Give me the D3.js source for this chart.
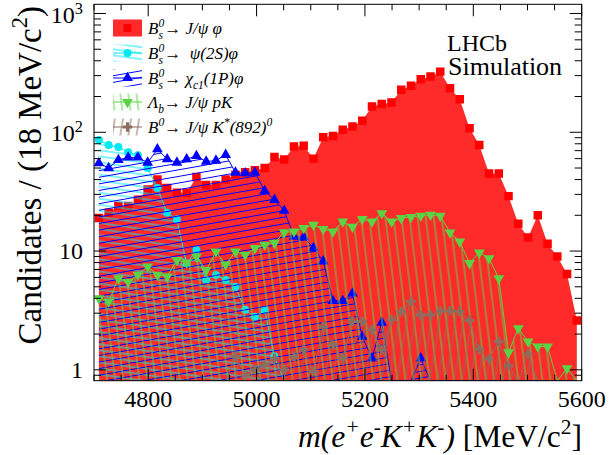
<!DOCTYPE html>
<html><head><meta charset="utf-8">
<script src="https://cdn.jsdelivr.net/npm/d3@7"></script>
<style>
body{margin:0;background:#fff;}
text{font-family:"Liberation Serif","Times New Roman",serif;fill:#000;}
</style></head>
<body><svg id="c" width="610" height="455"></svg>
<script>
// ---- data ----
const xEdges = [4700, 5600];
const binWidth = 18;
const xTickLabels = [4800, 5000, 5200, 5400, 5600];
const yTickValues = [1, 10, 100, 1000];
const redJpsiPhi = [19,21,24,24,27,33,40,34,31,31,42,36,36,40,44,46,48,50,62,59,76,77,60,91,93,105,112,125,165,173,178,228,246,280,295,324,235,190,108,78,45,45,29,17,13,20,11.5,9,6.4,2.6];
const cyanPsi2SPhi = [86,78,75,68,64,50,34,21,18.5,7.8,10.2,5.7,6.3,5.7,5.0,3.2,2.8,3.2,1.3,0,0,0,0,0,0,0,0,0,0,0,0,0,0,0,0,0,0,0,0,0,0,0,0,0,0,0,0,0,0,0];
const blueChic1Phi = [55,50,58.6,61.3,61.3,55.6,72,59.4,55.6,59.4,63.3,56.7,57.8,64.6,45.8,45.3,45.8,32.1,27,21.9,13.2,13.1,10.6,8.2,3.8,3.8,4.4,1.9,1.25,2.5,0,0,0,1.25,0,0,0,0,0,0,0,0,0,0,0,0,0,0,0,0];
const greenLbJpsipK = [4.0,3.76,5.9,5.5,6.3,7.4,6.3,6.1,8.4,8,9.0,6.9,9.9,7.7,9.9,9.3,10.6,11.3,11.7,14.4,14.6,15.6,16.6,15.3,14.6,17.7,16,18.6,17.7,20.8,17.7,18.9,19.3,19.8,20.2,19.8,14.3,12,7.9,9.7,8.7,5.9,1.4,2.24,1.73,1.57,1.57,0,1.03,0];
const brownB0JpsiKst = [0,0,0,0,0,0,0,0,0,0,0,0,0,0,1.3,0.9,1.0,1.1,1.25,1.0,1.3,1.47,0.97,2.3,1.62,1.25,2.55,2.55,2.17,1.47,2.64,3.1,3.76,2.9,2.9,3.14,3.14,3.1,2.6,1.49,1.23,1.73,1.08,0,1.36,0,0,0,0,0];

const svg = d3.select('#c');
const L = 94, R = 581.7, T = 4.3, B = 380.7;
const x = d3.scaleLinear().domain(xEdges).range([L, R]);
const y = d3.scaleLog().domain([0.81, 1195]).range([B, T]);
const centers = redJpsiPhi.map((d, i) => xEdges[0] + binWidth * (i + 0.5));

const defs = svg.append('defs');
defs.append('clipPath').attr('id', 'clip').append('rect').attr('x', L).attr('y', T).attr('width', R - L).attr('height', B - T);
function hatch(id, color, spacing, angle, vertical) {
  const p = defs.append('pattern').attr('id', id).attr('width', spacing).attr('height', spacing)
    .attr('patternUnits', 'userSpaceOnUse').attr('patternTransform', `rotate(${angle})`);
  if (vertical) p.append('line').attr('x1', spacing / 2).attr('x2', spacing / 2).attr('y1', 0).attr('y2', spacing);
  else p.append('line').attr('y1', spacing / 2).attr('y2', spacing / 2).attr('x1', 0).attr('x2', spacing);
  p.select('line').attr('stroke', color).attr('stroke-width', 1);
}
const cCyan = '#00e8f0', cBlue = '#0000ff', cGreen = '#5ad444', cBrown = '#8c6e60', cRed = '#ff0000';
const redFill = '#ff2a2a';
hatch('pCyan', cCyan, 6, 8, false);
hatch('pBlue', cBlue, 6.5, -10, false);
hatch('pGreen', cGreen, 8, -7, true);
hatch('pBrown', cBrown, 8, 9, true);

const yv = v => y(Math.max(v, 0.81));
const plot = svg.append('g').attr('clip-path', 'url(#clip)');
const area = d3.area().x((d, i) => x(centers[i])).y0(B).y1(d => yv(d));
const line = d3.line().x((d, i) => x(centers[i])).y(d => yv(d));

function series(data, fill, color, sym, size, rot, lineOn) {
  plot.append('path').datum(data).attr('d', area).attr('fill', fill).attr('stroke', 'none');
  if (lineOn) plot.append('path').datum(data).attr('d', line).attr('fill', 'none').attr('stroke', color).attr('stroke-width', 1);
  plot.append('g').selectAll('path').data(data.map((d, i) => [d, i]).filter(d => d[0] > 0)).join('path')
    .attr('d', d3.symbol(sym, size)())
    .attr('transform', d => `translate(${x(centers[d[1]])},${y(d[0])}) rotate(${rot})`)
    .attr('fill', color);
}
series(redJpsiPhi, redFill, cRed, d3.symbolSquare, 72, 0, false);
series(cyanPsi2SPhi, 'url(#pCyan)', cCyan, d3.symbolCircle, 50, 0, true);
series(blueChic1Phi, 'url(#pBlue)', cBlue, d3.symbolTriangle, 50, 0, true);
series(greenLbJpsipK, 'url(#pGreen)', cGreen, d3.symbolTriangle, 50, 180, true);
series(brownB0JpsiKst, 'url(#pBrown)', cBrown, d3.symbolCross, 50, 0, true);

// ---- frame & ticks ----
const ax = svg.append('g').attr('stroke', '#000').attr('stroke-width', 1);
ax.append('rect').attr('x', L).attr('y', T).attr('width', R - L).attr('height', B - T).attr('fill', 'none');
const xt = d3.range(4700, 5601, 50);
xt.forEach(v => {
  const len = (v % 200 === 0) ? 12 : 6;
  ax.append('line').attr('x1', x(v)).attr('x2', x(v)).attr('y1', B).attr('y2', B - len);
  ax.append('line').attr('x1', x(v)).attr('x2', x(v)).attr('y1', T).attr('y2', T + len);
});
const yt = [];
[0.1, 1, 10, 100, 1000].forEach(d => { for (let k = 1; k < 10; k++) { const v = d * k; if (v >= 0.81 && v <= 1195) yt.push(v); } });
yt.forEach(v => {
  const major = yTickValues.some(m => Math.abs(m - v) < 1e-9);
  const len = major ? 12 : 7;
  ax.append('line').attr('x1', L).attr('x2', L + len).attr('y1', y(v)).attr('y2', y(v));
  ax.append('line').attr('x1', R).attr('x2', R - len).attr('y1', y(v)).attr('y2', y(v));
});
// x labels
svg.append('g').selectAll('text').data(xTickLabels).join('text')
  .attr('x', d => x(d)).attr('y', 407).attr('text-anchor', 'middle').style('font-size', '24px').text(d => d);

// rich text helper
function rich(g, x0, y0, parts, size) {
  let cx = x0;
  parts.forEach(p => {
    if (p.sup !== undefined || p.sub !== undefined) {
      let w = 0;
      if (p.sup !== undefined) {
        const t = g.append('text').attr('x', cx).attr('y', y0 - size * (p.supUp || 0.42)).style('font-size', (size * 0.68) + 'px')
          .style('font-style', p.it ? 'italic' : 'normal').text(p.sup);
        w = Math.max(w, t.node().getComputedTextLength());
      }
      if (p.sub !== undefined) {
        const t = g.append('text').attr('x', cx).attr('y', y0 + size * 0.28).style('font-size', (size * 0.68) + 'px')
          .style('font-style', p.it ? 'italic' : 'normal').text(p.sub);
        w = Math.max(w, t.node().getComputedTextLength());
      }
      cx += w + (p.after || 0);
    } else {
      const t = g.append('text').attr('x', cx).attr('y', y0).style('font-size', size + 'px')
        .style('font-style', p.it ? 'italic' : 'normal').attr('xml:space', 'preserve').text(p.t);
      cx += t.node().getComputedTextLength();
    }
  });
  return cx - x0;
}

// y labels
const yl = svg.append('g');
function yLabel(v, parts, dy) {
  const g = yl.append('g');
  const w = rich(g, 0, 0, parts, 24);
  g.attr('transform', `translate(${83 - w},${y(v) + dy})`);
}
yLabel(1000, [{t: '10'}, {sup: '3', supUp: 0.4}], 10);
yLabel(100, [{t: '10'}, {sup: '2', supUp: 0.4}], 9);
yLabel(10, [{t: '10'}], 8);
yLabel(1, [{t: '1'}], 8);

// axis titles
const xtg = svg.append('g');
const xw = rich(xtg, 0, 0, [{t: 'm(e', it: 1}, {sup: '+', it: 1}, {t: 'e', it: 1}, {sup: '-', it: 1}, {t: 'K', it: 1}, {sup: '+', it: 1}, {t: 'K', it: 1}, {sup: '-', it: 1}, {t: ')', it: 1}, {t: ' [MeV/c'}, {sup: '2'}, {t: ']'}], 31.5);
xtg.attr('transform', `translate(${582 - xw},447)`);
const ytg = svg.append('g');
const yw = rich(ytg, 0, 0, [{t: 'Candidates / (18 MeV/c'}, {sup: '2'}, {t: ')'}], 33);
ytg.attr('transform', `translate(41,${6 + yw}) rotate(-90)`);

// LHCb
svg.append('text').attr('x', 447).attr('y', 51).style('font-size', '24px').text('LHCb');
svg.append('text').attr('x', 448).attr('y', 75).style('font-size', '26px').text('Simulation');

// legend
const lg = svg.append('g');
const rows = [28, 53, 78, 102, 127];
const sx0 = 113, sx1 = 142, sh = 17;
const legendItems = [
  {fill: redFill, color: cRed, sym: d3.symbolSquare, size: 64, rot: 0, line: false,
   parts: [{t: 'B', it: 1}, {sup: '0', sub: 's', it: 1}, {t: '\u2192 J/\u03C8 \u03C6', it: 1}]},
  {fill: 'url(#pCyan)', color: cCyan, sym: d3.symbolCircle, size: 50, rot: 0, line: true,
   parts: [{t: 'B', it: 1}, {sup: '0', sub: 's', it: 1}, {t: '\u2192  \u03C8(2S)\u03C6', it: 1}]},
  {fill: 'url(#pBlue)', color: cBlue, sym: d3.symbolTriangle, size: 50, rot: 0, line: true,
   parts: [{t: 'B', it: 1}, {sup: '0', sub: 's', it: 1}, {t: '\u2192 \u03C7', it: 1}, {sub: ' c1', it: 1}, {t: '(1P)\u03C6', it: 1}]},
  {fill: 'url(#pGreen)', color: cGreen, sym: d3.symbolTriangle, size: 50, rot: 180, line: true,
   parts: [{t: '\u039B', it: 1}, {sub: 'b', it: 1}, {t: '\u2192 J/\u03C8 pK', it: 1}]},
  {fill: 'url(#pBrown)', color: cBrown, sym: d3.symbolCross, size: 50, rot: 0, line: true,
   parts: [{t: 'B', it: 1}, {sup: '0', it: 1}, {t: '\u2192 J/\u03C8 K', it: 1}, {sup: '*', it: 1}, {t: '(892)', it: 1}, {sup: '0', it: 1}]}
];
legendItems.forEach((it, k) => {
  const cy = rows[k];
  lg.append('rect').attr('x', sx0).attr('y', cy - sh / 2).attr('width', sx1 - sx0).attr('height', sh).attr('fill', it.fill);
  if (it.line) lg.append('line').attr('x1', sx0).attr('x2', sx1).attr('y1', cy).attr('y2', cy).attr('stroke', it.color);
  lg.append('path').attr('d', d3.symbol(it.sym, it.size)()).attr('transform', `translate(${(sx0 + sx1) / 2},${cy}) rotate(${it.rot})`).attr('fill', it.color);
  rich(lg, 148, cy + 6, it.parts, 17);
});
</script></body></html>
